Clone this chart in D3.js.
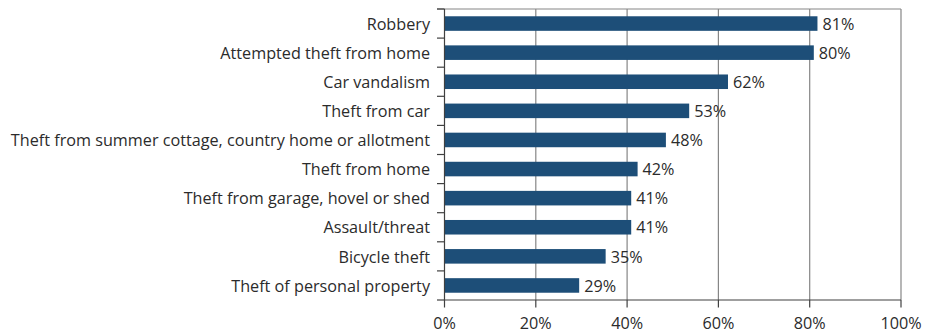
<!DOCTYPE html>
<html><head><meta charset="utf-8">
<script src="https://cdn.jsdelivr.net/npm/d3@7"></script>
<style>
body{margin:0;background:#fff;}
svg text{font-family:"Open Sans",sans-serif;fill:#2b2b2b;}
</style></head>
<body>
<svg id="chart" width="926" height="334"></svg>
<script>
const categories = ["Robbery","Attempted theft from home","Car vandalism","Theft from car","Theft from summer cottage, country home or allotment","Theft from home","Theft from garage, hovel or shed","Assault/threat","Bicycle theft","Theft of personal property"];
const values = [81.7, 80.9, 62.1, 53.6, 48.5, 42.3, 40.9, 40.9, 35.3, 29.5];
const valueLabels = ["81%","80%","62%","53%","48%","42%","41%","41%","35%","29%"];
const xTicks = [0,20,40,60,80,100];

const svg = d3.select("#chart");
const L = 444.5, R = 901, T = 9, B = 300;
const FS = "16.2px";
const x = d3.scaleLinear().domain([0,100]).range([L,R]);
const y = d3.scaleBand().domain(categories).range([T,B]).paddingInner(0.5).paddingOuter(0.25);

// gridlines
svg.append("g").selectAll("line").data(xTicks.slice(1)).join("line")
  .attr("x1",d=>x(d)).attr("x2",d=>x(d)).attr("y1",T).attr("y2",B)
  .attr("stroke","#868686").attr("stroke-width",1.2);
// top border
svg.append("line").attr("x1",L-7.5).attr("x2",R).attr("y1",T).attr("y2",T).attr("stroke","#868686").attr("stroke-width",1.2);

// bars
svg.append("g").selectAll("rect").data(categories).join("rect")
  .attr("x",x(0)).attr("y",d=>y(d)).attr("height",y.bandwidth())
  .attr("width",(d,i)=>x(values[i])-x(0)).attr("fill","#1d4e78");

// value labels
svg.append("g").selectAll("text").data(categories).join("text")
  .attr("x",(d,i)=>x(values[i])+5).attr("y",d=>y(d)+y.bandwidth()/2)
  .attr("dy","0.38em").style("font-size",FS).text((d,i)=>valueLabels[i]);

// left axis
const bounds = d3.range(categories.length+1).map(i=>T+(B-T)*i/categories.length);
svg.append("line").attr("x1",L).attr("x2",L).attr("y1",T).attr("y2",B).attr("stroke","#404040").attr("stroke-width",1.2);
svg.append("g").selectAll("line").data(bounds).join("line")
  .attr("x1",L-7.5).attr("x2",L).attr("y1",d=>d).attr("y2",d=>d).attr("stroke","#404040").attr("stroke-width",1.2);
svg.append("g").selectAll("text").data(categories).join("text")
  .attr("x",430).attr("y",d=>y(d)+y.bandwidth()/2).attr("dy","0.38em")
  .attr("text-anchor","end").style("font-size",FS).text(d=>d);

// bottom axis
svg.append("line").attr("x1",L).attr("x2",R).attr("y1",B).attr("y2",B).attr("stroke","#404040").attr("stroke-width",1.2);
svg.append("g").selectAll("line").data(xTicks).join("line")
  .attr("x1",d=>x(d)).attr("x2",d=>x(d)).attr("y1",B).attr("y2",B+7.5).attr("stroke","#404040").attr("stroke-width",1.2);
svg.append("g").selectAll("text").data(xTicks).join("text")
  .attr("x",d=>x(d)).attr("y",329).attr("text-anchor","middle").style("font-size",FS).text(d=>d+"%");
</script>
</body></html>
